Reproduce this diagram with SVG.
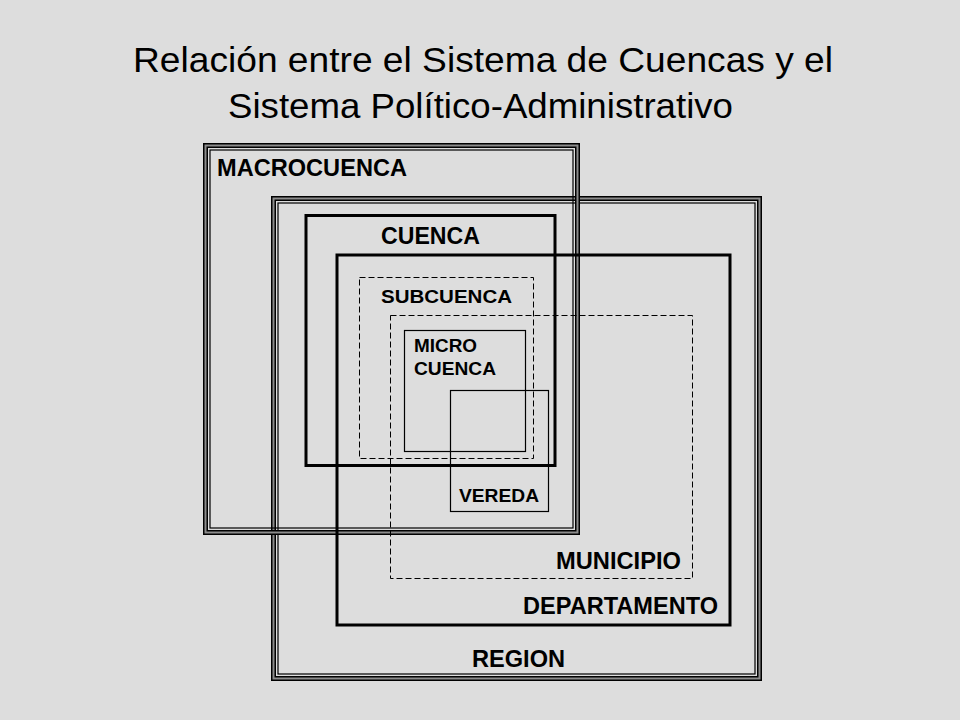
<svg xmlns="http://www.w3.org/2000/svg" width="960" height="720" viewBox="0 0 960 720">
<style>
.bg{fill:#dddddd}
.t{font-family:"Liberation Sans",Arial,sans-serif;fill:#000}
.title{font-size:35px}
.lb{font-size:23px;font-weight:bold}
.ls{font-size:19px;font-weight:bold}
.thickb{fill:none;stroke:#000;stroke-width:5}
.thickg{fill:none;stroke:#8c8c8c;stroke-width:2}
.thin{fill:none;stroke:#000;stroke-width:1.2}
.heavy{fill:none;stroke:#000;stroke-width:3}
.dash{fill:none;stroke:#000;stroke-width:1;stroke-dasharray:6 3}
</style>
<rect class="bg" x="0" y="0" width="960" height="720"/>
<g id="title">
<text class="t title" x="133" y="72" textLength="700" lengthAdjust="spacingAndGlyphs">Relación entre el Sistema de Cuencas y el</text>
<text class="t title" x="228" y="118" textLength="505" lengthAdjust="spacingAndGlyphs">Sistema Político-Administrativo</text>
</g>
<g id="region">
<rect class="thickb" x="273.5" y="198.5" width="486" height="480"/>
<rect class="thickg" x="273.5" y="198.5" width="486" height="480"/>
<rect class="thin" x="278" y="203" width="477" height="471"/>
<text class="t lb" x="472" y="667" textLength="93" lengthAdjust="spacingAndGlyphs">REGION</text>
</g>
<g id="macrocuenca">
<rect class="thickb" x="205.5" y="145.5" width="372" height="387"/>
<rect class="thickg" x="205.5" y="145.5" width="372" height="387"/>
<rect class="thin" x="210" y="150" width="363" height="378"/>
<text class="t lb" x="217" y="176" textLength="190" lengthAdjust="spacingAndGlyphs">MACROCUENCA</text>
</g>
<g id="cuenca">
<rect class="heavy" x="306" y="215.5" width="249" height="250"/>
<text class="t lb" x="381" y="244" textLength="99" lengthAdjust="spacingAndGlyphs">CUENCA</text>
</g>
<g id="departamento">
<rect class="heavy" x="337" y="255" width="393" height="370"/>
<text class="t lb" x="523" y="614" textLength="195" lengthAdjust="spacingAndGlyphs">DEPARTAMENTO</text>
</g>
<g id="subcuenca">
<rect class="dash" x="359.5" y="277.5" width="174" height="181"/>
<text class="t ls" x="381" y="303" textLength="131" lengthAdjust="spacingAndGlyphs">SUBCUENCA</text>
</g>
<g id="municipio">
<rect class="dash" x="390.5" y="315.5" width="302" height="263"/>
<text class="t lb" x="556" y="569" textLength="125" lengthAdjust="spacingAndGlyphs">MUNICIPIO</text>
</g>
<g id="microcuenca">
<rect class="thin" x="404.5" y="330.5" width="121" height="121"/>
<text class="t ls" x="414" y="352" textLength="63" lengthAdjust="spacingAndGlyphs">MICRO</text>
<text class="t ls" x="414" y="375" textLength="82" lengthAdjust="spacingAndGlyphs">CUENCA</text>
</g>
<g id="vereda">
<rect class="thin" x="450.5" y="390.5" width="98" height="121"/>
<text class="t ls" x="459" y="502" textLength="80" lengthAdjust="spacingAndGlyphs">VEREDA</text>
</g>
<g id="connectors"/>
</svg>
